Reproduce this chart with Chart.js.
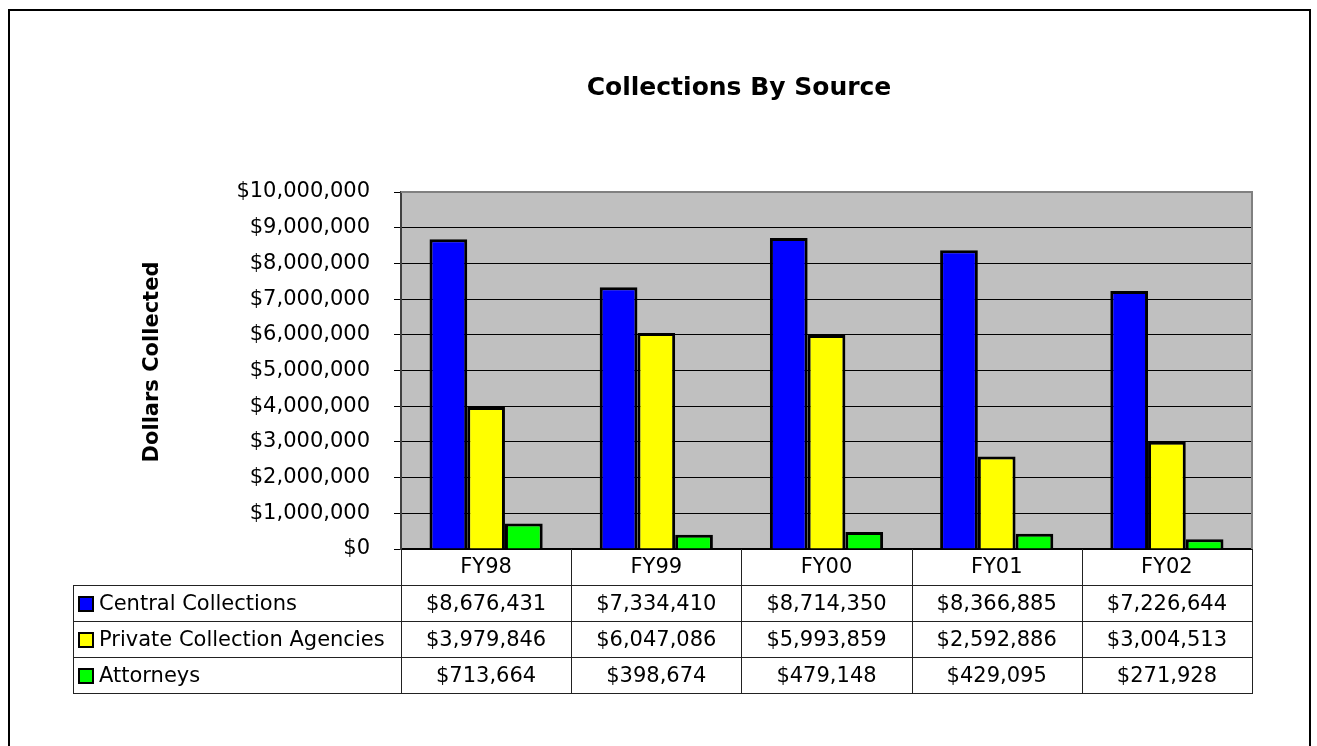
<!DOCTYPE html>
<html>
<head>
<meta charset="utf-8">
<title>Collections By Source</title>
<script src="https://cdn.jsdelivr.net/npm/chart.js@4.4.1/dist/chart.umd.min.js"></script>
<style>
  body { margin: 0; background: #fff; }
  canvas { display: block; }
</style>
</head>
<body>
<canvas id="myChart" width="1317" height="746"></canvas>
<script>
'use strict';
let years = ['FY98', 'FY99', 'FY00', 'FY01', 'FY02'];
let seriesNames = ['Central Collections', 'Private Collection Agencies', 'Attorneys'];
let central = [8676431, 7334410, 8714350, 8366885, 7226644];
let privateAgencies = [3979846, 6047086, 5993859, 2592886, 3004513];
let attorneys = [713664, 398674, 479148, 429095, 271928];
let seriesColors = ['#0000ff', '#ffff00', '#00ff00'];

let fontName = '"DejaVu Sans", Verdana, sans-serif';
let rowHeight = 36;
let tableLeft = 73;

function money(v) {
    return '$' + v.toLocaleString('en-US');
}

// grey plot area behind the gridlines
let plotBack = {
    id: 'plotBack',
    beforeDraw(chart) {
        let a = chart.chartArea;
        let ctx = chart.ctx;
        ctx.save();
        ctx.fillStyle = '#c0c0c0';
        ctx.fillRect(a.left, a.top, a.right - a.left, a.bottom - a.top);
        ctx.restore();
    },
    beforeDatasetsDraw(chart) {
        let a = chart.chartArea;
        let ctx = chart.ctx;
        ctx.save();
        ctx.strokeStyle = '#808080';
        ctx.lineWidth = 2;
        ctx.beginPath();
        ctx.moveTo(a.left, a.top);
        ctx.lineTo(a.right, a.top);
        ctx.lineTo(a.right, a.bottom);
        ctx.stroke();
        ctx.restore();
    }
};

// titles, data table under the plot (columns follow the x scale) and outer frame
let dataTable = {
    id: 'dataTable',
    afterDraw(chart) {
        let a = chart.chartArea;
        let ctx = chart.ctx;
        let xs = chart.scales.x;
        let colW = (a.right - a.left) / years.length;
        let top = a.bottom;
        let rows = chart.data.datasets.length;
        let bottom = top + rowHeight * (rows + 1);

        ctx.save();
        ctx.fillStyle = '#000';
        ctx.textAlign = 'center';
        ctx.textBaseline = 'middle';
        ctx.font = 'bold 25px ' + fontName;
        ctx.fillText('Collections By Source', 739, 88);

        ctx.save();
        ctx.translate(153, 362);
        ctx.rotate(-Math.PI / 2);
        ctx.font = 'bold 21px ' + fontName;
        ctx.fillText('Dollars Collected', 0, 0);
        ctx.restore();

        ctx.strokeStyle = '#222';
        ctx.lineWidth = 1;
        ctx.beginPath();
        for (let k = 0; k <= years.length; k++) {
            let x = Math.round(a.left + k * colW) + 0.5;
            ctx.moveTo(x, top);
            ctx.lineTo(x, bottom);
        }
        ctx.moveTo(tableLeft + 0.5, top + rowHeight);
        ctx.lineTo(tableLeft + 0.5, bottom);
        for (let r = 1; r <= rows + 1; r++) {
            let y = Math.round(top + r * rowHeight) + 0.5;
            ctx.moveTo(tableLeft, y);
            ctx.lineTo(a.right + 1, y);
        }
        ctx.stroke();

        ctx.font = '21px ' + fontName;
        chart.data.datasets.forEach(function (ds, r) {
            let cy = top + (r + 1.5) * rowHeight + 1;
            // legend key
            ctx.fillStyle = ds.backgroundColor;
            ctx.fillRect(79, cy - 7, 14, 14);
            ctx.strokeStyle = '#000';
            ctx.lineWidth = 2;
            ctx.strokeRect(79, cy - 7, 14, 14);
            ctx.fillStyle = '#000';
            ctx.textAlign = 'left';
            ctx.fillText(ds.label, 99, cy + 1);
            ctx.textAlign = 'center';
            for (let i = 0; i < ds.data.length; i++) {
                ctx.fillText(money(ds.data[i]), xs.getPixelForValue(i), cy + 1);
            }
        });

        ctx.strokeStyle = '#000';
        ctx.lineWidth = 2;
        ctx.strokeRect(9, 10, 1301, 800);
        ctx.restore();
    }
};

let ctx = document.getElementById('myChart').getContext('2d');

let myChart = new Chart(ctx, {
    type: 'bar',
    data: {
        labels: years,
        datasets: [{
            label: seriesNames[0],
            data: central,
            backgroundColor: seriesColors[0]
        }, {
            label: seriesNames[1],
            data: privateAgencies,
            backgroundColor: seriesColors[1]
        }, {
            label: seriesNames[2],
            data: attorneys,
            backgroundColor: seriesColors[2]
        }]
    },
    options: {
        responsive: false,
        animation: false,
        devicePixelRatio: 1,
        layout: {
            padding: { left: 120, right: 65, top: 192, bottom: 0 }
        },
        datasets: {
            bar: {
                borderColor: '#000',
                borderWidth: 3,
                categoryPercentage: 0.665,
                barPercentage: 1
            }
        },
        plugins: {
            legend: { display: false },
            tooltip: { enabled: false },
            title: { display: false }
        },
        scales: {
            x: {
                grid: { display: false, drawTicks: false },
                border: { display: true, color: '#000', width: 2 },
                ticks: {
                    color: '#000',
                    padding: 6,
                    font: { family: fontName, size: 21 }
                },
                afterFit(scale) {
                    scale.height = 197;
                }
            },
            y: {
                min: 0,
                max: 10000000,
                border: { display: true, color: '#404040', width: 2 },
                grid: {
                    color: '#000',
                    lineWidth: 1,
                    tickLength: 7,
                    tickColor: '#000'
                },
                ticks: {
                    stepSize: 1000000,
                    color: '#000',
                    padding: 24,
                    font: { family: fontName, size: 21 },
                    callback: function (value) { return money(value); }
                },
                afterFit(scale) {
                    scale.width = 281;
                }
            }
        }
    },
    plugins: [plotBack, dataTable]
});
</script>
</body>
</html>
